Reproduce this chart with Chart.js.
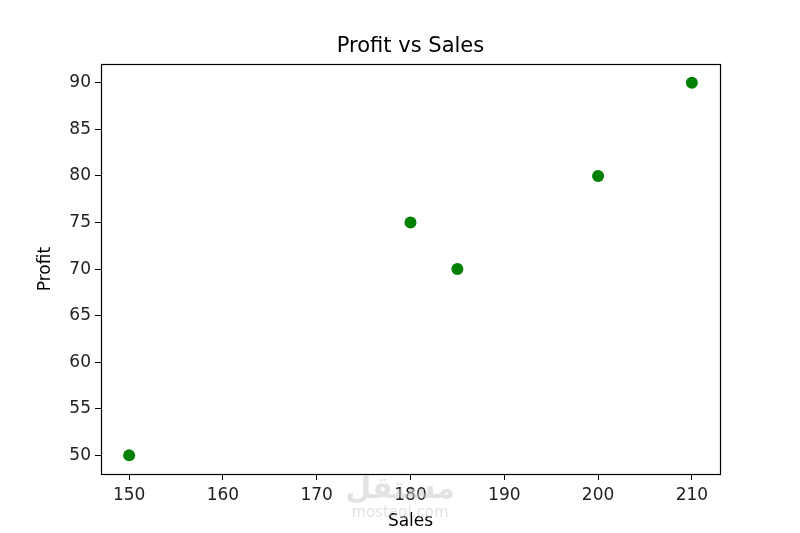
<!DOCTYPE html>
<html>
<head>
<meta charset="utf-8">
<script src="https://cdn.jsdelivr.net/npm/chart.js@4"></script>
<style>
  html, body { margin:0; padding:0; background:#fff; }
  canvas { display:block; }
</style>
</head>
<body>
<canvas id="c" width="800" height="533"></canvas>
<script>
'use strict';
const sales = [150, 180, 185, 200, 210];
const profit = [50, 75, 70, 80, 90];
const xTicks = [150, 160, 170, 180, 190, 200, 210];
const yTicks = [50, 55, 60, 65, 70, 75, 80, 85, 90];

const FONT = 'DejaVu Sans';

// frame round the plot area, like matplotlib's box
const boxPlugin = {
  id: 'box',
  afterDraw(chart) {
    const a = chart.chartArea, ctx = chart.ctx;
    ctx.save();
    ctx.strokeStyle = '#000'; ctx.lineWidth = 1.2;
    ctx.strokeRect(Math.round(a.left)+0.5, Math.round(a.top)+0.5, Math.round(a.right-a.left), Math.round(a.bottom-a.top));
    ctx.restore();
  }
};
// faint watermark of the source site
const markPlugin = {
  id: 'mark',
  afterDraw(chart) {
    const ctx = chart.ctx;
    ctx.save();
    ctx.fillStyle = 'rgba(200,200,200,0.5)';
    ctx.textAlign = 'center'; ctx.textBaseline = 'middle';
    ctx.font = 'bold 30px ' + FONT;
    ctx.fillText('مستقل', 400, 490);
    ctx.font = '15px ' + FONT;
    ctx.fillText('mostaql.com', 400, 513);
    ctx.restore();
  }
};

new Chart(document.getElementById('c').getContext('2d'), {
  type: 'scatter',
  data: { datasets: [{
    data: sales.map((s,i)=>({x:s, y:profit[i]})),
    backgroundColor: '#008000', borderColor: '#008000',
    pointRadius: 6, pointHoverRadius: 6, borderWidth: 0
  }]},
  options: {
    responsive: false, animation: false,
    layout: { padding: { top: 34, right: 80, left: 0, bottom: 0 } },
    plugins: {
      legend: { display: false }, tooltip: { enabled: false },
      title: { display: true, text: 'Profit vs Sales', color: '#000', fullSize: false,
        font: { family: FONT, size: 21, weight: 'normal' }, padding: { top: 0, bottom: 5 } }
    },
    scales: {
      x: {
        type: 'linear', min: 147, max: 213,
        afterBuildTicks: s => { s.ticks = xTicks.map(v=>({value:v})); },
        afterFit: s => { s.height = 59; },
        ticks: { color: '#222', font: { family: FONT, size: 17 }, padding: 5, maxRotation: 0 },
        grid: { drawOnChartArea: false, drawTicks: true, tickLength: 6, color: '#000' },
        border: { display: false },
        title: { display: true, text: 'Sales', color: '#000', font: { family: FONT, size: 17 }, padding: { top: 0, bottom: 1 } }
      },
      y: {
        type: 'linear', min: 48, max: 92,
        afterBuildTicks: s => { s.ticks = yTicks.map(v=>({value:v})); },
        afterFit: s => { s.width = 101; },
        ticks: { color: '#222', font: { family: FONT, size: 17 }, padding: 4 },
        grid: { drawOnChartArea: false, drawTicks: true, tickLength: 6, color: '#000' },
        border: { display: false },
        title: { display: true, text: 'Profit', color: '#000', font: { family: FONT, size: 17 }, padding: { top: 35, bottom: 0 } }
      }
    }
  },
  plugins: [boxPlugin, markPlugin]
});
</script>
</body>
</html>
